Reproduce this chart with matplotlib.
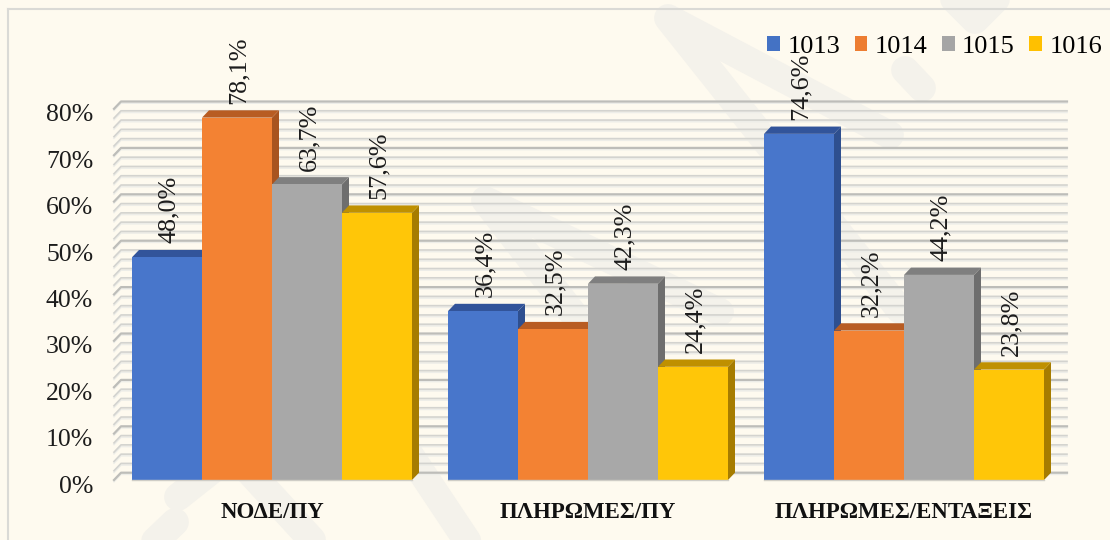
import matplotlib
matplotlib.use("Agg")
import matplotlib.pyplot as plt
from matplotlib.patches import Polygon, Patch
from matplotlib.transforms import ScaledTranslation

categories = ["ΝΟΔΕ/ΠΥ", "ΠΛΗΡΩΜΕΣ/ΠΥ", "ΠΛΗΡΩΜΕΣ/ΕΝΤΑΞΕΙΣ"]
years = ["1013", "1014", "1015", "1016"]
values_1013 = [48.0, 36.4, 74.6]
values_1014 = [78.1, 32.5, 32.2]
values_1015 = [63.7, 42.3, 44.2]
values_1016 = [57.6, 24.4, 23.8]
series = [values_1013, values_1014, values_1015, values_1016]
y_ticks = [0, 10, 20, 30, 40, 50, 60, 70, 80]
grid_levels = list(range(0, 81, 2))

front = ["#4876CB", "#F38233", "#A8A8A8", "#FFC608"]
top = ["#32549A", "#B85C22", "#7F7F7F", "#BF9000"]
side = ["#2E4F8F", "#A8541F", "#6E6E6E", "#A67C00"]
legend_cols = ["#4472C4", "#ED7D31", "#A5A5A5", "#FFC000"]
BG = "#FEFAEF"
WM = "#F4F2EB"
W, H = 1110, 540

plt.rcParams["font.family"] = ["Liberation Serif", "DejaVu Serif"]
fig = plt.figure(figsize=(W / 100, H / 100), dpi=100, facecolor=BG)

# background: watermark strokes and page frame, in pixel coordinates
bgax = fig.add_axes([0, 0, 1, 1], zorder=0)
bgax.set_xlim(0, W)
bgax.set_ylim(H, 0)
bgax.axis("off")
strokes = [
    [(890, 135), (668, 18), (900, 310)],
    [(720, 312), (485, 200), (640, 400)],
    [(905, 70), (922, 88)],
    [(940, -15), (975, 20), (1010, -15)],
    [(225, 445), (312, 540)],
    [(178, 497), (250, 440)],
    [(175, 522), (130, 565)],
    [(400, 440), (470, 545)],
]
for s in strokes:
    bgax.plot([p[0] for p in s], [p[1] for p in s], color=WM, lw=20,
              solid_capstyle="round", solid_joinstyle="round")
bgax.plot([8, 8], [9, H], color="#DADAD6", lw=1.5)
bgax.plot([8, W], [9, 9], color="#DADAD6", lw=1.5)

ax = fig.add_axes([114 / W, 1 - 480 / H, (1062 - 114) / W, (480 - 108.8) / H], zorder=1)
ax.patch.set_visible(False)
ax.set_xlim(-0.5, 2.5)
ax.set_ylim(0, 80)
for sp in ax.spines.values():
    sp.set_visible(False)

DX = 7 / 316.0
DY = 7.3 / 4.64
BW = 70 / 316.0

# back wall grid with slanted floor-side stubs
for v in grid_levels:
    major = v % 10 == 0
    xs = [-0.5, -0.5 + DX, 2.5 + 5 / 316.0]
    ys = [v, v + DY, v + DY]
    ax.plot(xs, [y - 0.35 for y in ys], color="#EDEDE8", lw=1.2, clip_on=False, zorder=1)
    ax.plot(xs, ys, color="#BDBDB9" if major else "#D3D3CF", lw=1.6 if major else 1.2,
            clip_on=False, zorder=1.1)

# bars with pseudo-3D top and side faces derived from data
for i, vals in enumerate(series):
    for c, v in enumerate(vals):
        x0 = c + (i - 2) * BW
        x1 = x0 + BW
        z = 2 + c + i * 0.1
        ax.add_patch(Polygon([(x1, 0), (x1 + DX, DY), (x1 + DX, v + DY), (x1, v)],
                             closed=True, fc=side[i], ec="none", zorder=z, clip_on=False))
        ax.add_patch(Polygon([(x0, v), (x0 + DX, v + DY), (x1 + DX, v + DY), (x1, v)],
                             closed=True, fc=top[i], ec="none", zorder=z, clip_on=False))
        ax.bar(c + (i - 1.5) * BW, v, width=BW, color=front[i], zorder=z + 0.01, clip_on=False)
        ax.annotate(f"{v:.1f}%".replace(".", ","), (c + (i - 1.5) * BW, v),
                    xytext=(1.5, 10), textcoords="offset points", rotation=90,
                    ha="center", va="bottom", fontsize=18.8, color="#1c1c1c",
                    zorder=20, annotation_clip=False)

for c in range(len(categories)):
    ax.plot([c - 2 * BW, c + 2 * BW], [0, 0], color="#CFCDC6", lw=1, zorder=19, clip_on=False)

ax.set_xticks(range(len(categories)))
ax.set_xticklabels(categories, fontsize=16.5, fontweight="bold", color="#111111")
ax.set_yticks(y_ticks)
ax.set_yticklabels([f"{t}%" for t in y_ticks], fontsize=18.5, color="#1c1c1c")
ax.tick_params(axis="x", length=0, pad=16)
ax.tick_params(axis="y", length=0, pad=15)
shift = ScaledTranslation(0, -3 / 72, fig.dpi_scale_trans)
for lab in ax.get_yticklabels():
    lab.set_transform(lab.get_transform() + shift)

handles = [Patch(fc=col, ec="none", label=y) for col, y in zip(legend_cols, years)]
ax.legend(handles=handles, ncol=4, frameon=False, fontsize=19,
          handlelength=0.49, handleheight=0.49, handletextpad=0.27, columnspacing=0.55,
          loc="center right", bbox_to_anchor=(1102 / W, 1 - 47 / H),
          bbox_transform=fig.transFigure, borderaxespad=0, borderpad=0)

fig.savefig("out.png", dpi=100, facecolor=BG)
